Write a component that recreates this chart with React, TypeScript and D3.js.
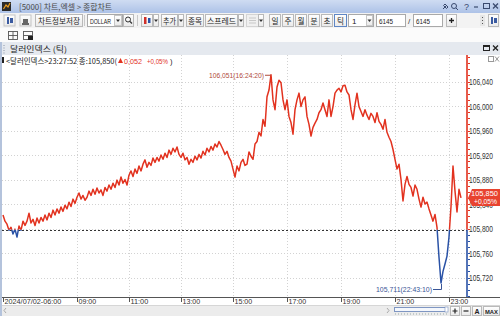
import React, { useEffect } from "react";
import * as d3 from "d3";

// ---- data (tick chart: one value per tick sample) ----
const prices: number[] = [
  105.822, 105.812, 105.807, 105.797, 105.802, 105.791, 105.799, 105.786, 105.804, 105.797,
  105.812, 105.805, 105.812, 105.825, 105.809, 105.815, 105.805, 105.817, 105.809, 105.818,
  105.812, 105.822, 105.814, 105.825, 105.818, 105.83, 105.822, 105.832, 105.825, 105.835,
  105.828, 105.838, 105.832, 105.843, 105.836, 105.848, 105.841,
  105.851, 105.858, 105.848, 105.854, 105.846, 105.851, 105.861, 105.854, 105.864, 105.856,
  105.866, 105.858, 105.863, 105.854, 105.867, 105.861, 105.871, 105.864, 105.874, 105.867,
  105.879, 105.871, 105.884, 105.874, 105.88, 105.871, 105.887, 105.894, 105.885, 105.897,
  105.89, 105.902, 105.894, 105.905, 105.912, 105.9, 105.908, 105.903, 105.915, 105.908,
  105.916, 105.91, 105.92, 105.913, 105.923, 105.916, 105.928, 105.921, 105.931, 105.925,
  105.933, 105.921, 105.916, 105.923, 105.912, 105.916, 105.905, 105.913, 105.908, 105.918,
  105.912, 105.921, 105.915, 105.926, 105.92, 105.931, 105.925, 105.934, 105.928, 105.938,
  105.933, 105.942, 105.936, 105.929, 105.921, 105.926, 105.916, 105.91, 105.897,
  105.884, 105.902, 105.894, 105.908, 105.913, 105.903, 105.905, 105.925, 105.918, 105.913,
  105.938, 105.942, 105.957, 105.951, 105.978, 105.967, 106.015, 106.026, 106.051, 106.01,
  105.994, 106.031, 106.042, 106.038, 106.01, 105.994, 106.01, 105.983, 105.973, 105.954,
  105.994, 106.01, 106.021, 105.999, 106.01, 106.015, 105.983, 105.97, 105.951, 105.965,
  105.972, 105.978, 105.989, 105.994, 106.005, 105.994, 105.983, 106.01, 105.983, 105.999,
  106.021, 106.026, 106.029, 106.023, 106.033, 106.034, 106.023, 106.018, 105.994, 105.978,
  106.002, 106.021, 105.999, 105.991, 105.983, 105.994, 105.985, 105.978, 105.988, 105.983,
  105.973, 105.989, 105.975,
  105.97, 105.962, 105.978, 105.957, 105.949, 105.942, 105.929, 105.913, 105.897, 105.905,
  105.88, 105.845, 105.872, 105.885, 105.872, 105.867, 105.853, 105.871, 105.864, 105.848,
  105.835, 105.851, 105.84, 105.843, 105.832, 105.822, 105.812, 105.823, 105.802, 105.753,
  105.711, 105.73, 105.742, 105.755, 105.786, 105.836, 105.902, 105.861, 105.827, 105.864,
  105.85,
];
const tickLabels = ["2024/07/02-06:00", "09:00", "11:00", "13:00", "15:00", "17:00", "19:00", "21:00", "23:00"];
const tickIndex = [0, 37, 63, 89, 115, 142, 169, 196, 223];
const yTickValues = [105.72, 105.76, 105.8, 105.84, 105.88, 105.92, 105.96, 106.0, 106.04];
const prevClose = 105.798;
const seriesName = "달러인덱스";
const lastTime = "23:27:52";
const maxTime = "16:24:20";
const minTime = "22:43:10";

const KR = "'Noto Sans CJK KR', 'Noto Sans', sans-serif";
const NUM = "'Liberation Sans', Arial, sans-serif";
const RED = "#e2321f";
const BLUE = "#2a52a6";

const fmt3 = (v: number) => d3.format(".3f")(v).replace(".", ",");

function Btn({ x, y, w, h, label, active, fs, tl }: any) {
  return (
    <g>
      <rect x={x + 0.5} y={y + 0.5} width={w - 1} height={h - 1} fill="url(#btnGrad)" stroke={active ? "#5f86c4" : "#b9b9b9"} />
      {label ? (
        <text x={x + w / 2} y={y + h / 2 + 3} textAnchor="middle" fontSize={fs || 7.5} fill="#222" fontFamily={KR}
          textLength={tl} lengthAdjust={tl ? "spacingAndGlyphs" : undefined}>{label}</text>
      ) : null}
    </g>
  );
}

function Drop({ x, y }: any) {
  return <path d={`M${x},${y} h4 l-2,2.5 z`} fill="#333" />;
}

export default function App() {
  useEffect(() => {
    document.body.style.margin = "0";
  }, []);

  const plotTop = 55;
  const axisX = 467;
  const axisY = 297;

  const x = d3.scaleLinear().domain([0, prices.length - 1]).range([3, 461]);
  const y = d3.scaleLinear().domain([105.72, 106.04]).range([277.5, 81.5]);
  const linePath = d3.line<number>().x((_, i) => x(i)).y((d) => y(d))(prices) || "";

  const last = prices[prices.length - 1];
  const change = last - prevClose;
  const pct = (change / prevClose) * 100;
  const pctText = `+${pct.toFixed(2).replace(".", ",")}%`;
  const maxI = d3.maxIndex(prices);
  const minI = d3.minIndex(prices);
  const maxV = prices[maxI];
  const minV = prices[minI];
  const yPrev = y(prevClose);

  const lo = Math.ceil(y.invert(axisY) * 100);
  const hi = Math.floor(y.invert(plotTop) * 100);
  const minorTicks = d3.range(lo, hi + 1).map((k) => k / 100);

  const yLast = y(last);

  return (
    <div style={{ position: "absolute", left: 0, top: 0, width: 500, height: 316 }}>
      <svg width={500} height={316} style={{ display: "block" }}>
        <defs>
          <linearGradient id="titleGrad" x1="0" y1="0" x2="0" y2="1">
            <stop offset="0" stopColor="#cfdcf2" />
            <stop offset="1" stopColor="#adc2e7" />
          </linearGradient>
          <linearGradient id="btnGrad" x1="0" y1="0" x2="0" y2="1">
            <stop offset="0" stopColor="#ffffff" />
            <stop offset="1" stopColor="#e9e9e9" />
          </linearGradient>
          <clipPath id="clipUp"><rect x={0} y={0} width={500} height={yPrev} /></clipPath>
          <clipPath id="clipDown"><rect x={0} y={yPrev} width={500} height={316 - yPrev} /></clipPath>
        </defs>

        <rect x={0} y={0} width={500} height={316} fill="#ffffff" />

        {/* title bar */}
        <rect x={0} y={0} width={500} height={13} fill="url(#titleGrad)" />
        <rect x={2} y={2} width={9} height={9} fill="#2b2b2b" />
        <path d="M3.5,9 L6,5 L8,7 L10,3" stroke="#f0a020" strokeWidth={1.2} fill="none" />
        <text x={19} y={10} fontSize={8} fill="#4a4a4a" fontFamily={KR} textLength={93} lengthAdjust="spacingAndGlyphs">[5000] 차트,엑셀 &gt; 종합차트</text>
        <g fill="#3a4a6e" stroke="#3a4a6e" fontFamily={NUM}>
          <path d="M443,9 l3,-3 m-1,-2 l3,3 l-1.5,1.5 l-3,-3 z" strokeWidth={1} fill="none" />
          <circle cx={454} cy={6} r={2.5} fill="none" strokeWidth={1} />
          <line x1={456} y1={8} x2={458} y2={10} strokeWidth={1} />
          <text x={464} y={10} fontSize={9} stroke="none">?</text>
          <line x1={474} y1={7} x2={478} y2={7} strokeWidth={1.2} />
          <rect x={483.5} y={3.5} width={6} height={5} fill="none" strokeWidth={1} />
          <path d="M493,3.5 l5,5 m0,-5 l-5,5" strokeWidth={1.3} />
        </g>

        {/* toolbar */}
        <rect x={0} y={13} width={500} height={15} fill="#f3f3f3" />
        <rect x={4} y={15} width={11} height={11} fill="url(#btnGrad)" stroke="#c4c4c4" />
        <rect x={7} y={17} width={2} height={7} fill="#3a5aa0" />
        <rect x={10} y={18} width={3} height={5} fill="#3a5aa0" />
        <rect x={20} y={15} width={11} height={11} fill="url(#btnGrad)" stroke="#c4c4c4" />
        <path d="M22,23 h7 v2 h-7 z M23,19 h5 v4 h-5 z" fill="#666" />
        <Btn x={35} y={14} w={48} h={13} label="차트정보저장" tl={42} />
        <line x1={84.5} y1={15} x2={84.5} y2={26} stroke="#c8c8c8" />
        <rect x={87.5} y={14.5} width={35} height={12} fill="#fff" stroke="#a9a9a9" />
        <text x={90} y={23.5} fontSize={7} fill="#222" fontFamily={NUM} textLength={21} lengthAdjust="spacingAndGlyphs">DOLLAR</text>
        <rect x={114.5} y={15.5} width={7} height={10} fill="url(#btnGrad)" stroke="#c6c6c6" />
        <Drop x={116} y={19.5} />
        <Btn x={123} y={14} w={11} h={13} />
        <circle cx={128} cy={19.5} r={2.5} fill="none" stroke="#333" strokeWidth={1} />
        <line x1={130} y1={21.5} x2={132} y2={23.5} stroke="#333" strokeWidth={1.2} />
        <line x1={137.5} y1={15} x2={137.5} y2={26} stroke="#c8c8c8" />
        <Btn x={141} y={14} w={12} h={13} />
        <rect x={144} y={17} width={2.5} height={7} fill="#d0302a" />
        <rect x={148} y={18} width={2.5} height={5} fill="#2a52a6" />
        <Btn x={153} y={14} w={6} h={13} />
        <Drop x={154} y={19.5} />
        <Btn x={161} y={14} w={17} h={13} label="추가" tl={13} />
        <Btn x={178} y={14} w={6} h={13} />
        <Drop x={179} y={19.5} />
        <Btn x={186} y={14} w={18} h={13} label="종목" tl={14} />
        <Btn x={205} y={14} w={33} h={13} label="스프레드" tl={29} />
        <Btn x={238} y={14} w={6} h={13} />
        <Drop x={239} y={19.5} />
        <rect x={246.5} y={14.5} width={12} height={12} fill="#f0f0f0" stroke="#d4d4d4" />
        <path d="M249,18 h7 M249,20.5 h7 M249,23 h7" stroke="#c8c8c8" />
        <Btn x={258} y={14} w={6} h={13} />
        <Drop x={259} y={19.5} />
        <Btn x={269} y={14} w={12} h={13} label="일" tl={7} />
        <Btn x={282} y={14} w={12} h={13} label="주" tl={7} />
        <Btn x={295} y={14} w={12} h={13} label="월" tl={7} />
        <Btn x={308} y={14} w={12} h={13} label="분" tl={7} />
        <Btn x={321} y={14} w={12} h={13} label="초" tl={7} />
        <Btn x={334} y={14} w={13} h={13} label="틱" tl={7} active />
        <rect x={348.5} y={14.5} width={25} height={12} fill="#fff" stroke="#a9a9a9" />
        <text x={352} y={23.5} fontSize={8} fill="#222" fontFamily={NUM}>1</text>
        <rect x={366.5} y={15.5} width={6} height={10} fill="url(#btnGrad)" stroke="#c6c6c6" />
        <Drop x={367.5} y={19.5} />
        <rect x={376.5} y={14.5} width={29} height={12} fill="#fff" stroke="#a9a9a9" />
        <text x={379} y={23.5} fontSize={7.5} fill="#222" fontFamily={NUM} textLength={14} lengthAdjust="spacingAndGlyphs">6145</text>
        <text x={408} y={23.5} fontSize={8} fill="#333" fontFamily={NUM}>/</text>
        <rect x={413.5} y={14.5} width={29} height={12} fill="#fff" stroke="#a9a9a9" />
        <text x={416} y={23.5} fontSize={7.5} fill="#222" fontFamily={NUM} textLength={14} lengthAdjust="spacingAndGlyphs">6145</text>
        <Btn x={446} y={14} w={11} h={13} />
        <path d="M449,20.5 h5 M451.5,18 v5" stroke="#222" strokeWidth={1.3} />
        <rect x={480} y={15} width={5} height={11} fill="#e6e6e6" />
        <path d="M482.5,17 v1 M482.5,20 v1 M482.5,23 v1" stroke="#555" />
        <Btn x={488} y={14} w={11} h={13} />
        <rect x={491} y={17} width={2} height={7} fill="#3a5aa0" />
        <rect x={494} y={18} width={3} height={5} fill="#3a5aa0" />

        {/* second row */}
        <rect x={0} y={28} width={500} height={14} fill="#fbfbfb" />
        <g stroke="#555" fill="none" strokeWidth={0.9}>
          <rect x={8.5} y={31.5} width={9} height={8} />
          <line x1={13} y1={31.5} x2={13} y2={39.5} />
          <line x1={8.5} y1={35.5} x2={17.5} y2={35.5} />
          <rect x={23.5} y={31.5} width={9} height={8} />
          <line x1={23.5} y1={35.5} x2={32.5} y2={35.5} />
        </g>
        <rect x={28} y={36} width={5} height={4} fill="#222" />

        {/* chart header */}
        <rect x={0} y={42} width={500} height={13} fill="#e5e9ef" />
        <path d="M4,45 v1 M4,47.5 v1 M4,50 v1 M4,52.5 v1" stroke="#8a94a6" />
        <text x={10} y={52} fontSize={8} fill="#222" fontFamily={KR} textLength={57} lengthAdjust="spacingAndGlyphs">{seriesName} (틱)</text>
        <rect x={483.5} y={45.5} width={6} height={5} fill="none" stroke="#222" />
        <line x1={484} y1={46.5} x2={489} y2={46.5} stroke="#222" />
        <path d="M493,45.5 l5,5 m0,-5 l-5,5" stroke="#222" strokeWidth={1.3} />
        <rect x={0} y={42} width={2} height={274} fill="#b4c3dc" />

        {/* grid */}
        <g stroke="#d2d2d2" strokeDasharray="1,2">
          {yTickValues.map((t) => (
            <line key={t} x1={2} x2={axisX} y1={Math.round(y(t)) + 0.5} y2={Math.round(y(t)) + 0.5} />
          ))}
          {tickIndex.slice(1).map((ti) => (
            <line key={ti} x1={Math.round(x(ti)) + 0.5} x2={Math.round(x(ti)) + 0.5} y1={plotTop} y2={axisY} />
          ))}
        </g>

        {/* previous close */}
        <line x1={2} x2={axisX} y1={Math.round(yPrev) + 0.5} y2={Math.round(yPrev) + 0.5} stroke="#333" strokeDasharray="2,2" />

        {/* price line */}
        <path d={linePath} fill="none" stroke={RED} strokeWidth={1.5} strokeLinejoin="round" clipPath="url(#clipUp)" />
        <path d={linePath} fill="none" stroke={BLUE} strokeWidth={1.5} strokeLinejoin="round" clipPath="url(#clipDown)" />

        {/* max / min annotations */}
        <text x={x(maxI) - 7} y={y(maxV) + 3} textAnchor="end" fontSize={8} fill="#b04a3a" fontFamily={NUM}
          textLength={55} lengthAdjust="spacingAndGlyphs">{`${fmt3(maxV)}(${maxTime})`}</text>
        <line x1={x(maxI) - 6} x2={x(maxI)} y1={y(maxV) + 0.5} y2={y(maxV) + 0.5} stroke="#b04a3a" />
        <text x={x(minI) - 9} y={292} textAnchor="end" fontSize={8} fill="#3a5596" fontFamily={NUM}
          textLength={56} lengthAdjust="spacingAndGlyphs">{`${fmt3(minV)}(${minTime})`}</text>
        <path d={`M${x(minI) - 8},289.5 H${Math.round(x(minI)) + 0.5} V${y(minV) + 1}`} fill="none" stroke="#3a5596" />

        {/* legend */}
        <rect x={2} y={57} width={2} height={6} fill="#222" />
        <text x={6} y={63.5} fontSize={7.5} fill="#222" fontFamily={KR} textLength={111} lengthAdjust="spacingAndGlyphs">
          {`<${seriesName}>${lastTime} 종:${fmt3(last)}(`}
        </text>
        <path d="M118,63 l2.5,-5 l2.5,5 z" fill={RED} />
        <text x={124} y={63.5} fontSize={7.5} fill={RED} fontFamily={NUM} textLength={18} lengthAdjust="spacingAndGlyphs">{fmt3(change)}</text>
        <text x={147} y={63.5} fontSize={7} fill={RED} fontFamily={NUM} textLength={21} lengthAdjust="spacingAndGlyphs">{pctText}</text>
        <text x={170} y={63.5} fontSize={7.5} fill="#222" fontFamily={NUM}>)</text>
        <rect x={488.5} y={56.5} width={5} height={5} fill="none" stroke="#999" />
        <path d="M495,56.5 l4,5 m0,-5 l-4,5" stroke="#999" />

        {/* right axis */}
        <line x1={axisX} x2={axisX} y1={plotTop} y2={yPrev} stroke={RED} strokeWidth={1.6} />
        <line x1={axisX} x2={axisX} y1={yPrev} y2={axisY} stroke={BLUE} strokeWidth={1.6} />
        <g>
          {minorTicks.map((t) => (
            <line key={t} x1={axisX + 1} x2={axisX + 3} y1={Math.round(y(t)) + 0.5} y2={Math.round(y(t)) + 0.5}
              stroke={t >= prevClose ? RED : BLUE} />
          ))}
        </g>
        {yTickValues.map((t) => (
          <text key={t} x={469} y={y(t) + 3.5} fontSize={8.2} fill="#333" fontFamily={NUM}
            textLength={24} lengthAdjust="spacingAndGlyphs">{fmt3(t)}</text>
        ))}

        {/* current price box */}
        <path d={`M${axisX + 1},${yLast} L472,${yLast - 9} H500 V${yLast + 8} H472 Z`} fill="#e8432f" />
        <text x={471} y={yLast - 1.8} fontSize={7.3} fill="#fff" fontFamily={NUM} textLength={27} lengthAdjust="spacingAndGlyphs">{fmt3(last)}</text>
        <text x={474} y={yLast + 6.5} fontSize={7.3} fill="#fff" fontFamily={NUM} textLength={23} lengthAdjust="spacingAndGlyphs">{pctText}</text>

        {/* x axis */}
        <line x1={2} x2={500} y1={axisY + 0.5} y2={axisY + 0.5} stroke="#555" />
        {tickIndex.map((ti, k) => (
          <g key={ti}>
            <line x1={Math.round(x(ti)) + 0.5} x2={Math.round(x(ti)) + 0.5} y1={axisY} y2={axisY + 5} stroke="#555" />
            <text x={Math.round(x(ti)) + 1.5} y={304} fontSize={8} fill="#333" fontFamily={NUM}
              textLength={tickLabels[k].length * 3.55} lengthAdjust="spacingAndGlyphs">{tickLabels[k]}</text>
          </g>
        ))}

        {/* scroll bar row */}
        <rect x={2} y={305} width={498} height={11} fill="#ececec" />
        <line x1={2} x2={500} y1={305.5} y2={305.5} stroke="#d6d6d6" />
        <path d="M6,308 l-2,2.5 l2,2.5" stroke="#aaa" fill="none" />
        <path d="M387,308 l2,2.5 l-2,2.5" stroke="#aaa" fill="none" />
        <rect x={394.5} y={307.5} width={53} height={4} fill="#f4f7fc" stroke="#7f96c2" />
        <rect x={445} y={307} width={3} height={5} fill="#fff" stroke="#7f96c2" strokeWidth={0.6} />
        <line x1={395} x2={448} y1={314} y2={314} stroke="#9aa" strokeDasharray="1,2" />
        <Btn x={450} y={306} w={10} h={10} />
        <path d="M452.5,311 h5 M455,308.5 v5" stroke="#222" strokeWidth={1.2} />
        <Btn x={461} y={306} w={10} h={10} />
        <path d="M463.5,311 h5" stroke="#222" strokeWidth={1.2} />
        <Btn x={472} y={306} w={10} h={10} />
        <text x={477} y={314} textAnchor="middle" fontSize={7} fontWeight="bold" fill="#222" fontFamily={NUM}>A</text>
        <Btn x={483} y={306} w={17} h={10} />
        <text x={491.5} y={314} textAnchor="middle" fontSize={6} fontWeight="bold" fill="#222" fontFamily={NUM}
          textLength={13} lengthAdjust="spacingAndGlyphs">MAX</text>
      </svg>
    </div>
  );
}
